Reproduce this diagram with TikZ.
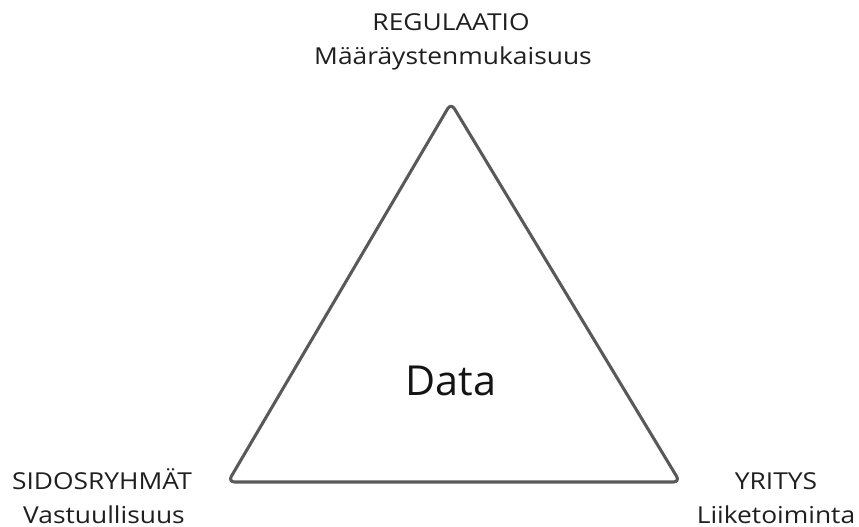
\documentclass[tikz,border=0pt]{standalone}
\usepackage{fontspec}
\setmainfont{Open Sans}
\newfontfamily\widesans[FakeStretch=1.13]{Open Sans}
\begin{document}
\begin{tikzpicture}[x=0.75pt,y=-0.75pt,
  label/.style={font=\widesans\fontsize{17.5}{20}\selectfont, text=black!88, anchor=base, inner sep=0pt, align=center},
  edge/.style={draw=black!65, line width=2.3pt, rounded corners=5pt, line join=round}]
  \useasboundingbox (0,0) rectangle (859,527);
  % corners of the triangle
  \coordinate (top) at (451,103);
  \coordinate (left) at (228,482);
  \coordinate (right) at (680,482);
  \draw[edge] (top) -- (right) -- (left) -- cycle;
  \node[font=\fontsize{31}{36}\selectfont, text=black!92, anchor=base, inner sep=0pt] (data) at (451,395) {Data};
  \node[label] (reg) at (451,31) {REGULAATIO};
  \node[label] (regsub) at (453,65) {Määräystenmukaisuus};
  \node[label] (sid) at (102,489) {SIDOSRYHMÄT};
  \node[label] (sidsub) at (104,523) {Vastuullisuus};
  \node[label] (yri) at (776,489) {YRITYS};
  \node[label] (yrisub) at (776,523) {Liiketoiminta};
\end{tikzpicture}
\end{document}
